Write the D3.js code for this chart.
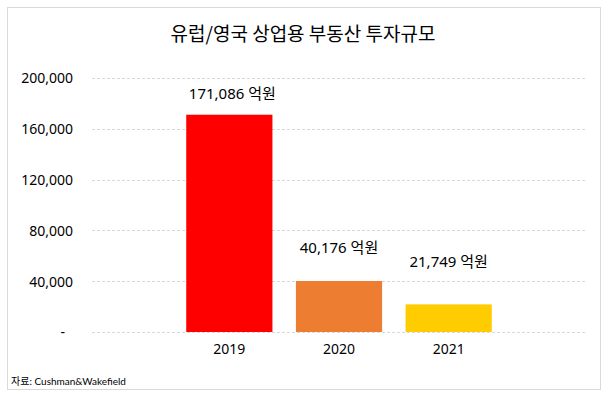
<!DOCTYPE html>
<html><head><meta charset="utf-8">
<script src="https://cdn.jsdelivr.net/npm/d3@7"></script>
<style>
html,body{margin:0;padding:0;background:#fff;}
svg{display:block;}
text{font-family:"Noto Sans","Noto Sans CJK KR",sans-serif;fill:#000;}
</style></head>
<body>
<svg id="chart" width="609" height="398"></svg>
<script>
// ---- data ----
const categories = ["2019", "2020", "2021"];
const values = [171086, 40176, 21749];
const valueLabels = ["171,086 억원", "40,176 억원", "21,749 억원"];
const barColors = ["#FF0000", "#ED7D31", "#FFCC00"];
const yTicks = [0, 40000, 80000, 120000, 160000, 200000];
const title = "유럽/영국 상업용 부동산 투자규모";
const source = "자료: Cushman&Wakefield";

// ---- layout ----
const svg = d3.select("#chart");
const plot = {left: 92, right: 585, top: 78, bottom: 332};
const labelLift = [16, 28, 37]; // label distance above bar top

svg.append("rect").attr("x", 7.5).attr("y", 7.5).attr("width", 593).attr("height", 382)
  .attr("fill", "#fff").attr("stroke", "#d9d9d9").attr("stroke-width", 1);

svg.append("text").attr("x", 303).attr("y", 41).attr("text-anchor", "middle")
  .style("font-size", "19px").style("font-family", "'Noto Sans CJK KR','Noto Sans',sans-serif")
  .text(title);

const y = d3.scaleLinear().domain([0, 200000]).range([plot.bottom, plot.top]);
const x = d3.scaleBand().domain(categories).range([174.5, 503.5]).paddingInner(0.214).paddingOuter(0.107);

// gridlines
svg.append("g").selectAll("line").data(yTicks).join("line")
  .attr("x1", plot.left).attr("x2", plot.right)
  .attr("y1", d => Math.round(y(d)) + 0.5).attr("y2", d => Math.round(y(d)) + 0.5)
  .attr("stroke", "#d9d9d9").attr("stroke-width", 1).attr("stroke-dasharray", "3,2");

// y axis labels
const yAxis = d3.axisLeft(y).tickValues(yTicks).tickSize(0).tickPadding(0)
  .tickFormat(d => d === 0 ? "-" : d3.format(",")(d));
const ya = svg.append("g").attr("transform", "translate(73,0)").call(yAxis);
ya.select(".domain").remove();
ya.selectAll("text").style("font-size", "14px").style("font-family", "'Noto Sans',sans-serif")
  .attr("fill", "#000").attr("dy", "0.35em")
  .attr("dx", d => d === 0 ? -8 : 0);

// bars
svg.append("g").selectAll("rect").data(categories).join("rect")
  .attr("x", d => x(d)).attr("width", x.bandwidth())
  .attr("y", (d, i) => y(values[i])).attr("height", (d, i) => y(0) - y(values[i]))
  .attr("fill", (d, i) => barColors[i]);

// value labels
svg.append("g").selectAll("text").data(categories).join("text")
  .attr("x", (d, i) => x(d) + x.bandwidth() / 2 + (i === 0 ? 3 : 0))
  .attr("y", (d, i) => y(values[i]) - labelLift[i])
  .attr("text-anchor", "middle").style("font-size", "15px")
  .text((d, i) => valueLabels[i]);

// x axis labels
const xAxis = d3.axisBottom(x).tickSize(0).tickPadding(0);
const xa = svg.append("g").attr("transform", `translate(0,${plot.bottom})`).call(xAxis);
xa.select(".domain").remove();
xa.selectAll("text").style("font-size", "14px").style("font-family", "'Noto Sans',sans-serif")
  .attr("fill", "#000").attr("y", 22).attr("dy", 0);

// source
svg.append("text").attr("x", 11).attr("y", 385)
  .style("font-size", "10px").style("font-family", "Lato,'Noto Sans CJK KR',sans-serif")
  .text(source);
</script>
</body></html>
